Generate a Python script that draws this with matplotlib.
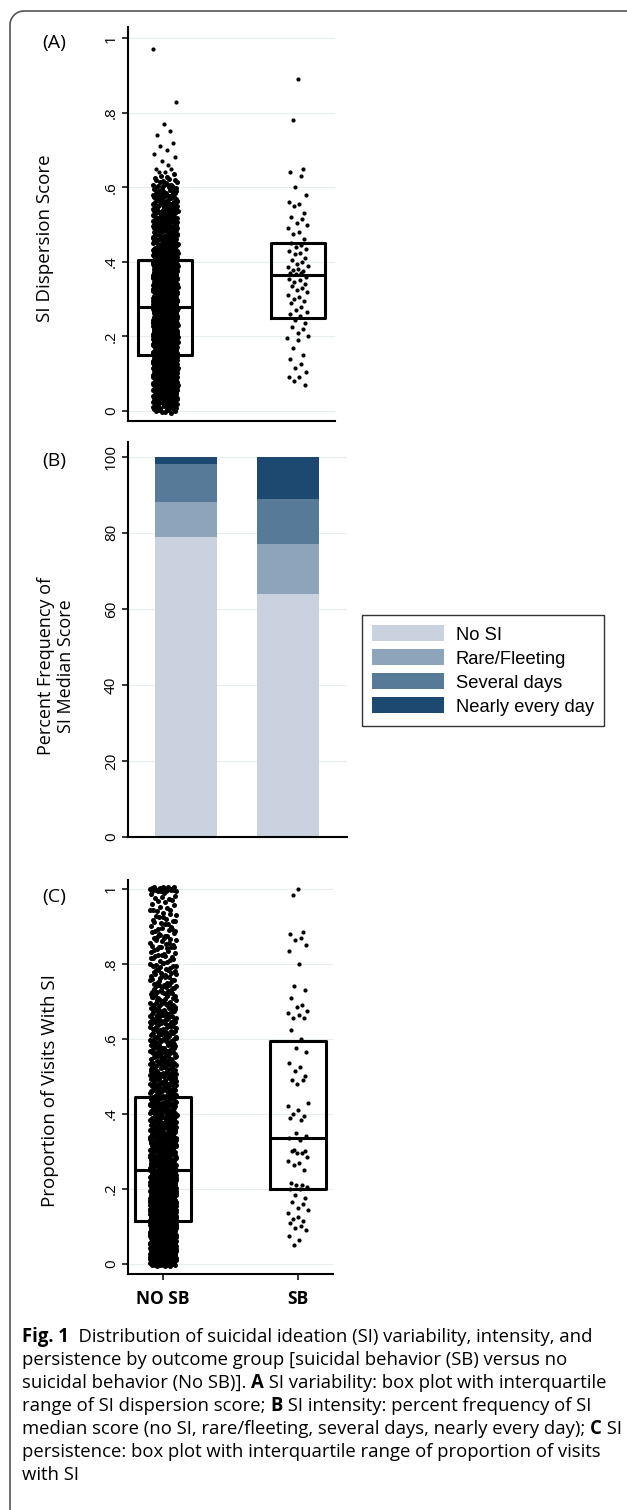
import numpy as np
import matplotlib.pyplot as plt
from matplotlib.patches import Patch

plt.rcParams['font.family'] = ['Open Sans', 'DejaVu Sans']

W, H = 627, 1510

groups = ['NO SB', 'SB']

# (A) SI dispersion score
# the No SB strip is too dense to read point by point: number of points at
# each 0.01 level from 0.00 to 0.63, read from how dark the strip is
a_nosb_counts = [8, 12, 15, 17, 20, 20, 22, 22, 23, 23,
                 24, 24, 25, 25, 25, 25, 25, 25, 25, 25,
                 25, 25, 25, 25, 25, 25, 25, 25, 25, 25,
                 24, 24, 24, 24, 23, 23, 22, 22, 22, 22,
                 21, 21, 20, 20, 19, 19, 18, 18, 17, 17,
                 16, 16, 15, 15, 14, 14, 13, 12, 11, 10,
                 8, 7, 5, 3]
a_nosb_tail = [0.64, 0.64, 0.65, 0.65, 0.66, 0.67, 0.68, 0.69, 0.70, 0.71,
               0.72, 0.74, 0.75, 0.77, 0.83, 0.97]
a_sb = [0.89, 0.78, 0.65, 0.64, 0.63, 0.60, 0.58, 0.56, 0.555, 0.55, 0.53, 0.52,
        0.515, 0.505, 0.50, 0.49, 0.48, 0.475, 0.46,
        0.45, 0.445, 0.44, 0.435, 0.43, 0.425, 0.42, 0.41, 0.405, 0.40, 0.395,
        0.39, 0.385, 0.38, 0.378, 0.375, 0.37, 0.37, 0.368,
        0.36, 0.355, 0.35, 0.345, 0.34, 0.335, 0.33, 0.325, 0.32, 0.31, 0.305,
        0.30, 0.295, 0.29, 0.28, 0.27, 0.265, 0.26, 0.255,
        0.245, 0.235, 0.225, 0.22, 0.21, 0.20, 0.195, 0.19, 0.17, 0.15, 0.14,
        0.125, 0.115, 0.105, 0.09, 0.09, 0.08, 0.07]
a_q1 = [0.15, 0.25]
a_med = [0.28, 0.365]
a_q3 = [0.405, 0.45]
a_ticks = [0, 0.2, 0.4, 0.6, 0.8, 1]
a_ticklabels = ['0', '.2', '.4', '.6', '.8', '1']

# (B) SI median score, percent of each group
b_levels = ['No SI', 'Rare/Fleeting', 'Several days', 'Nearly every day']
b_nosb = [79, 9, 10, 2]
b_sb = [64, 13, 12, 11]
b_colors = ['#c9d2de', '#8ea4bb', '#577a99', '#1d4870']
b_ticks = [0, 20, 40, 60, 80, 100]

# (C) proportion of visits with SI
# No SB strip: number of points at each 0.01 level from 0.00 to 1.00
c_nosb_counts = [25, 30, 30, 30, 30, 34, 34, 34, 34, 34,
                 32, 32, 32, 32, 32, 28, 28, 28, 28, 28,
                 24, 24, 24, 24, 24, 21, 21, 21, 21, 21,
                 18, 18, 18, 18, 18, 16, 16, 16, 16, 16,
                 14, 14, 14, 14, 14, 12, 12, 12, 12, 12,
                 11, 11, 11, 11, 11, 10, 10, 10, 10, 10,
                 10, 10, 10, 10, 10, 9, 9, 9, 9, 9,
                 7, 7, 7, 7, 7, 6, 6, 6, 6, 6,
                 5, 5, 5, 5, 5, 5, 5, 5, 5, 5,
                 4, 4, 4, 4, 4, 3, 3, 3, 3, 3,
                 22]
c_sb = [1.0, 0.985, 0.885, 0.88, 0.87, 0.865, 0.85, 0.835, 0.80, 0.74, 0.73, 0.71,
        0.69, 0.685, 0.675, 0.67, 0.665, 0.655, 0.655, 0.625, 0.60,
        0.575, 0.565, 0.535, 0.525, 0.515, 0.50, 0.49, 0.49, 0.48, 0.43, 0.42,
        0.41, 0.40, 0.395, 0.39, 0.385, 0.35, 0.34,
        0.335, 0.33, 0.305, 0.30, 0.30, 0.295, 0.295, 0.285, 0.275, 0.27, 0.265,
        0.25, 0.215, 0.21, 0.21, 0.205, 0.20, 0.20,
        0.185, 0.175, 0.165, 0.16, 0.15, 0.145, 0.135, 0.125, 0.12, 0.115, 0.11,
        0.10, 0.095, 0.09, 0.075, 0.065, 0.05]
c_q1 = [0.115, 0.20]
c_med = [0.25, 0.335]
c_q3 = [0.445, 0.595]

fig = plt.figure(figsize=(W / 100, H / 100), dpi=100)

# full-figure layer in pixel coords for frame, labels and caption
bg = fig.add_axes([0, 0, 1, 1], zorder=-1)
bg.set_xlim(0, W)
bg.set_ylim(H, 0)
bg.axis('off')

# frame: rounded top-left corner, open to the right and bottom
r = 14
t = np.linspace(0, np.pi / 2, 30)
frame_x = np.concatenate([[10, 10], 10 + r - r * np.cos(t), [W + 5]])
frame_y = np.concatenate([[H + 5, 11 + r], 11 + r - r * np.sin(t), [11]])
bg.plot(frame_x, frame_y, color='#555555', lw=1.2, solid_capstyle='butt')


def px_axes(left, right, top, bottom):
    return fig.add_axes([left / W, 1 - bottom / H, (right - left) / W, (bottom - top) / H])


def style(ax, ticks, labels):
    for s in ['top', 'right']:
        ax.spines[s].set_visible(False)
    for s in ['left', 'bottom']:
        ax.spines[s].set_linewidth(1.5)
    ax.set_yticks(ticks)
    ax.set_yticklabels(labels, rotation=90, va='center', ha='right')
    ax.tick_params(axis='y', length=4.5, width=1.1, pad=2, labelsize=11)
    ax.grid(axis='y', color='#e6eef0', lw=0.8)
    ax.set_axisbelow(True)
    ax.set_xticks([])


def halton(n, base):
    out = np.zeros(n)
    for k in range(n):
        f, i, v = 1.0, k + 1, 0.0
        while i > 0:
            f /= base
            v += f * (i % base)
            i //= base
        out[k] = v
    return out


def strip(ax, x0, values, half, level_jitter=0.0, size=9):
    # deterministic jitter (Halton sequence) in place of Stata's random jitter
    v = np.asarray(values, dtype=float)
    jx = halton(len(v), 2) * 2 - 1
    jy = halton(len(v), 3) - 0.5
    ax.scatter(x0 + half * jx, v + level_jitter * jy, s=size, c='black',
               linewidths=0, zorder=3)


def boxes(ax, q1, med, q3, width):
    stats = [dict(q1=a, med=m, q3=b, whislo=a, whishi=b, fliers=[])
             for a, m, b in zip(q1, med, q3)]
    ax.bxp(stats, positions=[1, 2], widths=width, showcaps=False, showfliers=False,
           boxprops=dict(color='black', lw=2.2), medianprops=dict(color='black', lw=2.2),
           whiskerprops=dict(lw=0), manage_ticks=False, zorder=2)


def counts_to_values(counts):
    levels = np.arange(len(counts)) / 100
    return np.repeat(levels, counts)


# panel A
axA = px_axes(128, 335, 27, 421)
style(axA, a_ticks, a_ticklabels)
axA.set_xlim(0.72, 2.28)
axA.set_ylim(-0.027, 1.03)
boxes(axA, a_q1, a_med, a_q3, 0.41)
strip(axA, 1, counts_to_values(a_nosb_counts), 0.095, level_jitter=0.012, size=13)
strip(axA, 1, a_nosb_tail, 0.095)
strip(axA, 2, a_sb, 0.08)

# panel B
axB = px_axes(128, 347, 442, 837)
style(axB, b_ticks, [str(v) for v in b_ticks])
axB.set_xlim(0.431, 2.578)
axB.set_ylim(0, 103.9)
bottoms = [0, 0]
for i, lev in enumerate(b_levels):
    vals = [b_nosb[i], b_sb[i]]
    axB.bar([1, 2], vals, bottom=bottoms, width=0.61, color=b_colors[i], lw=0,
            zorder=2, label=lev)
    bottoms = [bottoms[0] + vals[0], bottoms[1] + vals[1]]

handles = [Patch(fc=c, ec='none') for c in b_colors]
leg = fig.legend(handles, b_levels, loc='upper left', bbox_to_anchor=(362 / W, 1 - 615 / H),
                 frameon=True, fancybox=False, edgecolor='black',
                 prop={'family': 'Liberation Sans', 'size': 13.2},
                 handlelength=3.9, handleheight=1.0, labelspacing=0.3,
                 borderpad=0.55, handletextpad=0.65, borderaxespad=0)
leg.get_frame().set_linewidth(1.0)

# panel C
axC = px_axes(128, 333, 880, 1274)
style(axC, a_ticks, a_ticklabels)
axC.set_xlim(0.74, 2.26)
axC.set_ylim(-0.027, 1.024)
boxes(axC, c_q1, c_med, c_q3, 0.41)
strip(axC, 1, counts_to_values(c_nosb_counts), 0.1, level_jitter=0.012, size=13)
strip(axC, 2, c_sb, 0.078)
axC.set_xticks([1, 2])
axC.set_xticklabels(groups, fontweight='bold', fontsize=12.5)
axC.tick_params(axis='x', length=4.5, width=1.1, pad=7)

# panel letters and y titles
for y, s in [(43, '(A)'), (461, '(B)'), (897, '(C)')]:
    bg.text(54, y, s, fontsize=14, ha='center', va='center')
bg.text(45, 238, 'SI Dispersion Score', rotation=90, fontsize=13.5, ha='center', va='center')
bg.text(56, 666, 'Percent Frequency of\nSI Median Score', rotation=90, fontsize=13,
        ha='center', va='center', linespacing=1.2, multialignment='center')
bg.text(50, 1091, 'Proportion of Visits With SI', rotation=90, fontsize=13.5,
        ha='center', va='center')

# caption with bold pieces
caption = [
    [('Fig. 1', True), ('  Distribution of suicidal ideation (SI) variability, intensity, and', False)],
    [('persistence by outcome group [suicidal behavior (SB) versus no', False)],
    [('suicidal behavior (No SB)]. ', False), ('A', True), (' SI variability: box plot with interquartile', False)],
    [('range of SI dispersion score; ', False), ('B', True), (' SI intensity: percent frequency of SI', False)],
    [('median score (no SI, rare/fleeting, several days, nearly every day); ', False), ('C', True), (' SI', False)],
    [('persistence: box plot with interquartile range of proportion of visits', False)],
    [('with SI', False)],
]
renderer = fig.canvas.get_renderer()


def width_of(s, size, bold):
    tx = bg.text(0, 0, s.replace(' ', '\u00a0'), fontsize=size,
                 fontweight='bold' if bold else 'normal')
    w = tx.get_window_extent(renderer).width
    tx.remove()
    return w


# fit the longest line to the printed width
base = 12
longest = sum(width_of(s, base, b) for s, b in caption[4])
cap_size = base * 598 / longest

for k, line in enumerate(caption):
    x = 22
    y = 1337 + k * 23
    for s, b in line:
        tx = bg.text(x, y, s.replace(' ', '\u00a0'), fontsize=cap_size,
                     fontweight='bold' if b else 'normal', ha='left', va='center')
        x += tx.get_window_extent(renderer).width

fig.savefig('out.png', dpi=100)
